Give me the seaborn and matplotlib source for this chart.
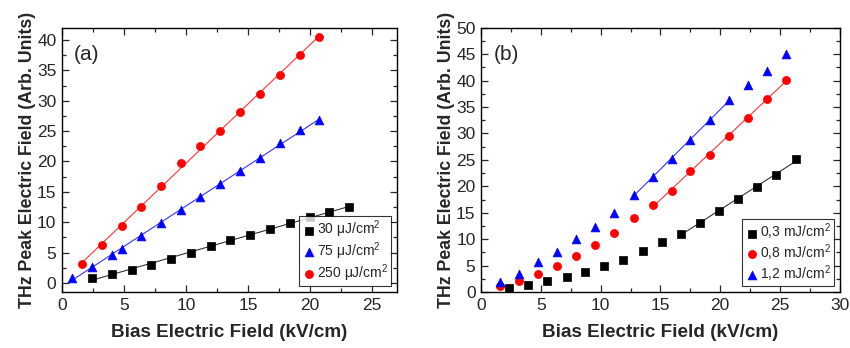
import numpy as np
import matplotlib
matplotlib.use("Agg")
import matplotlib.pyplot as plt
from matplotlib.ticker import MultipleLocator
import seaborn as sns

# ---- data ----
# panel (a): fluence in uJ/cm2
a_x_30 = [2.4, 4.0, 5.6, 7.2, 8.8, 10.4, 12.0, 13.55, 15.15, 16.75, 18.35, 19.95, 21.5, 23.1]
a_y_30 = [0.83, 1.5, 2.15, 3.0, 4.0, 4.9, 6.0, 7.0, 7.9, 8.8, 9.9, 10.85, 11.7, 12.5]
a_x_75 = [0.8, 2.4, 4.0, 4.8, 6.4, 8.0, 9.6, 11.15, 12.75, 14.35, 15.95, 17.55, 19.15, 20.75]
a_y_75 = [0.8, 2.65, 4.6, 5.6, 7.7, 9.8, 12.0, 14.15, 16.35, 18.45, 20.55, 23.0, 25.1, 26.8]
a_x_250 = [1.6, 3.2, 4.8, 6.4, 8.0, 9.6, 11.15, 12.75, 14.35, 15.95, 17.55, 19.15, 20.75]
a_y_250 = [3.05, 6.25, 9.4, 12.5, 15.9, 19.8, 22.5, 25.0, 28.2, 31.1, 34.25, 37.6, 40.5]

# panel (b): fluence in mJ/cm2
b_x_03 = [2.35, 3.95, 5.55, 7.15, 8.7, 10.3, 11.9, 13.5, 15.1, 16.7, 18.3, 19.9, 21.5, 23.05, 24.7, 26.3]
b_y_03 = [0.8, 1.4, 2.15, 2.8, 3.7, 4.9, 6.1, 7.75, 9.4, 11.0, 13.1, 15.35, 17.6, 19.9, 22.15, 25.1]
b_x_hi = [1.6, 3.2, 4.75, 6.35, 7.95, 9.55, 11.1, 12.75, 14.35, 15.95, 17.5, 19.15, 20.7, 22.3, 23.9, 25.5]
b_y_08 = [1.05, 2.0, 3.45, 5.0, 6.8, 8.9, 11.15, 14.0, 16.5, 19.2, 22.9, 26.0, 29.6, 32.95, 36.5, 40.15]
b_y_12 = [1.8, 3.35, 5.6, 7.6, 10.0, 12.3, 15.0, 18.3, 21.8, 25.2, 28.85, 32.5, 36.3, 39.1, 41.85, 45.0]

# fitted ranges in panel (b) (start, stop index)
fit_03 = (9, 16)
fit_08 = (8, 16)
fit_12 = (7, 13)

sns.set_style("ticks")
plt.rcParams['font.family'] = ['Liberation Sans', 'DejaVu Sans']
plt.rcParams['mathtext.fontset'] = 'custom'
plt.rcParams['mathtext.rm'] = 'Liberation Sans'
plt.rcParams['mathtext.it'] = 'Liberation Sans:italic'

fig = plt.figure(figsize=(8.5, 3.48), dpi=100)
ax1 = fig.add_axes([0.073, 0.161, 0.394, 0.759])
ax2 = fig.add_axes([0.566, 0.161, 0.422, 0.759])


def series(ax, x, y, marker, color, label, fit=None, size=32):
    sns.scatterplot(x=x, y=y, ax=ax, marker=marker, color=color, s=size,
                    edgecolor=color, linewidth=0.5, label=label, zorder=3)
    if fit is not None:
        xs = np.array(x)[fit[0]:fit[1]]
        ys = np.array(y)[fit[0]:fit[1]]
    else:
        xs, ys = np.array(x), np.array(y)
    sns.regplot(x=xs, y=ys, ax=ax, scatter=False, ci=None, truncate=True,
                line_kws=dict(color=color, lw=0.8, alpha=0.8))


series(ax1, a_x_30, a_y_30, "s", "black", r"30 μJ/cm$^{2}$", size=26)
series(ax1, a_x_75, a_y_75, "^", "blue", r"75 μJ/cm$^{2}$", size=40)
series(ax1, a_x_250, a_y_250, "o", "red", r"250 μJ/cm$^{2}$", size=34)

series(ax2, b_x_03, b_y_03, "s", "black", r"0,3 mJ/cm$^{2}$", fit=fit_03, size=26)
series(ax2, b_x_hi, b_y_08, "o", "red", r"0,8 mJ/cm$^{2}$", fit=fit_08, size=34)
series(ax2, b_x_hi, b_y_12, "^", "blue", r"1,2 mJ/cm$^{2}$", fit=fit_12, size=40)

for ax, xl, yl, tag in [(ax1, (0, 27), (-1.5, 42), "(a)"),
                        (ax2, (0, 30), (0, 50), "(b)")]:
    ax.set_xlim(*xl)
    ax.set_ylim(*yl)
    ax.xaxis.set_major_locator(MultipleLocator(5))
    ax.xaxis.set_minor_locator(MultipleLocator(2.5))
    ax.yaxis.set_major_locator(MultipleLocator(5))
    ax.yaxis.set_minor_locator(MultipleLocator(2.5))
    ax.tick_params(which="both", direction="in", top=True, right=True,
                   width=0.9, labelsize=12.5, pad=4)
    ax.tick_params(which="major", length=5)
    ax.tick_params(which="minor", length=3)
    for sp in ax.spines.values():
        sp.set_linewidth(1.0)
        sp.set_color("black")
    ax.set_xlabel("Bias Electric Field (kV/cm)", fontsize=13.6, fontweight="bold", labelpad=8.5)
    ax.set_ylabel("THz Peak Electric Field (Arb. Units)", fontsize=12.8,
                  fontweight="bold", labelpad=1)
    ax.text(0.035, 0.935, tag, transform=ax.transAxes, fontsize=15, va="top")
    leg = ax.legend(loc="lower right", fontsize=10, frameon=True, fancybox=False,
                    edgecolor="black", handletextpad=0.1, borderpad=0.2,
                    labelspacing=0.0, handlelength=1.0, borderaxespad=0.4)
    leg.get_frame().set_linewidth(0.8)

ax1.set_yticks(range(0, 41, 5))

fig.savefig("out.png", dpi=100)
